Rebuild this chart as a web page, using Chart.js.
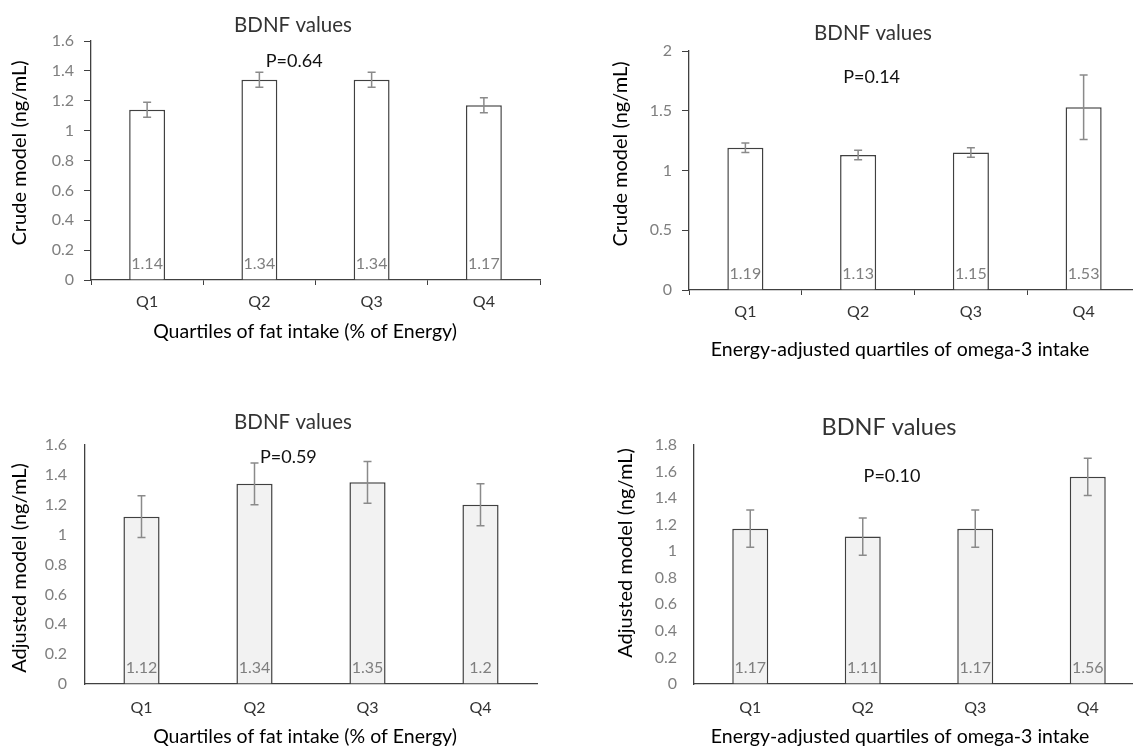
<!DOCTYPE html>
<html>
<head>
<meta charset="utf-8">
<script src="https://cdn.jsdelivr.net/npm/chart.js@4.4.1/dist/chart.umd.min.js"></script>
<style>
  html, body { margin: 0; padding: 0; background: #fff; width: 1133px; height: 748px; overflow: hidden; }
  .panel { position: absolute; }
</style>
</head>
<body>
<div class="panel" style="left:0;top:0;width:560px;height:350px"><canvas id="c1"></canvas></div>
<div class="panel" style="left:560px;top:0;width:600px;height:370px"><canvas id="c2"></canvas></div>
<div class="panel" style="left:0;top:370px;width:560px;height:378px"><canvas id="c3"></canvas></div>
<div class="panel" style="left:560px;top:370px;width:604px;height:378px"><canvas id="c4"></canvas></div>
<script>
// data
var quartiles = ['Q1', 'Q2', 'Q3', 'Q4'];
var fatCrude = [1.14, 1.34, 1.34, 1.17];
var fatCrudeErr = [0.05, 0.05, 0.05, 0.05];
var omegaCrude = [1.19, 1.13, 1.15, 1.53];
var omegaCrudeErr = [0.04, 0.04, 0.04, 0.27];
var fatAdj = [1.12, 1.34, 1.35, 1.2];
var fatAdjErr = [0.14, 0.14, 0.14, 0.14];
var omegaAdj = [1.17, 1.11, 1.17, 1.56];
var omegaAdjErr = [0.14, 0.14, 0.14, 0.14];
var pValues = ['P=0.64', 'P=0.14', 'P=0.59', 'P=0.10'];

var FONT = 'Lato';

// error bars, value labels, p value and the titles
var decor = {
    id: 'decor',
    afterDatasetsDraw: function (chart, args, o) {
        var ctx = chart.ctx;
        var xs = chart.scales.x, ys = chart.scales.y;
        var meta = chart.getDatasetMeta(0);
        var vals = chart.data.datasets[0].data;
        ctx.save();
        // error bars
        ctx.strokeStyle = '#8a8a8a';
        ctx.lineWidth = 1.5;
        meta.data.forEach(function (bar, i) {
            var top = ys.getPixelForValue(vals[i] + o.err[i]);
            var bot = ys.getPixelForValue(vals[i] - o.err[i]);
            ctx.beginPath();
            ctx.moveTo(bar.x, top); ctx.lineTo(bar.x, bot);
            ctx.moveTo(bar.x - 4, top); ctx.lineTo(bar.x + 4, top);
            ctx.moveTo(bar.x - 4, bot); ctx.lineTo(bar.x + 4, bot);
            ctx.stroke();
        });
        // value labels at the foot of each bar
        ctx.fillStyle = '#7f7f7f';
        ctx.font = '16px ' + FONT;
        ctx.textAlign = 'center';
        ctx.textBaseline = 'middle';
        meta.data.forEach(function (bar, i) {
            ctx.fillText(String(vals[i]), bar.x, ys.getPixelForValue(0) - 16);
        });
        // p value
        ctx.fillStyle = '#111';
        ctx.font = '18px ' + FONT;
        ctx.fillText(o.p, xs.getPixelForValue(o.pAt[0]), ys.getPixelForValue(o.pAt[1]));
        // chart title
        ctx.fillStyle = '#333';
        ctx.font = o.titleSize + 'px ' + FONT;
        ctx.fillText('BDNF values', o.title[0], o.title[1]);
        // axis titles
        ctx.fillStyle = '#000';
        ctx.font = '19.5px ' + FONT;
        ctx.fillText(o.xTitle, o.xt[0], o.xt[1]);
        ctx.translate(o.yt[0], o.yt[1]);
        ctx.rotate(-Math.PI / 2);
        ctx.font = '20px ' + FONT;
        ctx.fillText(o.yTitle, 0, 0);
        ctx.restore();
    }
};

function makeChart(id, values, errs, cfg) {
    var ctx = document.getElementById(id).getContext('2d');
    return new Chart(ctx, {
        type: 'bar',
        data: {
            labels: quartiles,
            datasets: [{
                data: values,
                backgroundColor: cfg.fill,
                borderColor: '#404040',
                borderWidth: 1.5,
                barPercentage: 0.32,
                categoryPercentage: 1
            }]
        },
        options: {
            responsive: true,
            maintainAspectRatio: false,
            animation: false,
            layout: { padding: { left: 0, right: cfg.right, top: cfg.top, bottom: 0 } },
            plugins: {
                legend: { display: false },
                tooltip: { enabled: false },
                decor: {
                    err: errs, p: cfg.p, pAt: cfg.pAt,
                    title: cfg.title, titleSize: cfg.titleSize || 20.5,
                    xTitle: cfg.xTitle, xt: cfg.xt,
                    yTitle: cfg.yTitle, yt: cfg.yt
                }
            },
            scales: {
                x: {
                    offset: true,
                    grid: { offset: true, drawOnChartArea: false, drawTicks: cfg.marks, tickLength: 5, color: '#404040' },
                    border: { color: '#404040', width: 1.3 },
                    ticks: { color: '#333', font: { family: FONT, size: 16 }, padding: cfg.xPad },
                    afterFit: function (s) { s.height = cfg.xH; }
                },
                y: {
                    min: 0,
                    max: cfg.yMax,
                    grid: { drawOnChartArea: false, drawTicks: cfg.marks, tickLength: 7, color: '#404040' },
                    border: { color: '#404040', width: 1.3 },
                    ticks: {
                        stepSize: cfg.step,
                        color: '#7f7f7f',
                        font: { family: FONT, size: 16 },
                        padding: cfg.yPad,
                        callback: function (v) { return String(Math.round(v * 10) / 10); }
                    },
                    afterFit: function (s) { s.width = cfg.yW; }
                }
            }
        },
        plugins: [decor]
    });
}

makeChart('c1', fatCrude, fatCrudeErr, {
    fill: '#ffffff', marks: true, yMax: 1.6, step: 0.2,
    top: 41, right: 20, yW: 91, xH: 70, xPad: 7, yPad: 10,
    p: pValues[0], pAt: [1.31, 1.466],
    title: [293, 25],
    xTitle: 'Quartiles of fat intake (% of Energy)', xt: [305, 332],
    yTitle: 'Crude model (ng/mL)', yt: [20, 153]
});

makeChart('c2', omegaCrude, omegaCrudeErr, {
    fill: '#ffffff', marks: true, yMax: 2, step: 0.5,
    top: 51, right: 20, yW: 129, xH: 80, xPad: 7, yPad: 10,
    p: pValues[1], pAt: [1.12, 1.78],
    title: [313, 33],
    xTitle: 'Energy-adjusted quartiles of omega-3 intake', xt: [340, 350],
    yTitle: 'Crude model (ng/mL)', yt: [61, 154]
});

makeChart('c3', fatAdj, fatAdjErr, {
    fill: '#f2f2f2', marks: false, yMax: 1.6, step: 0.2,
    top: 75, right: 23, yW: 85, xH: 64, xPad: 14, yPad: 18,
    p: pValues[2], pAt: [1.30, 1.52],
    title: [293, 52],
    xTitle: 'Quartiles of fat intake (% of Energy)', xt: [305, 367],
    yTitle: 'Adjusted model (ng/mL)', yt: [20, 198]
});

makeChart('c4', omegaAdj, omegaAdjErr, {
    fill: '#f2f2f2', marks: false, yMax: 1.8, step: 0.2,
    top: 75, right: 20, yW: 134, xH: 64, xPad: 14, yPad: 17,
    p: pValues[3], pAt: [1.26, 1.566],
    title: [329, 57], titleSize: 23.5,
    xTitle: 'Energy-adjusted quartiles of omega-3 intake', xt: [340, 367],
    yTitle: 'Adjusted model (ng/mL)', yt: [66, 183]
});
</script>
</body>
</html>
